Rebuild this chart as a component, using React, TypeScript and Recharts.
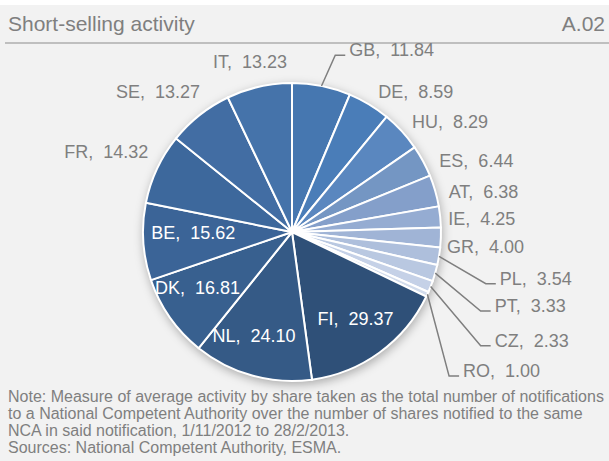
import { PieChart, Pie, Cell } from "recharts";

// clockwise from 12 o'clock
const countries = ["GB", "DE", "HU", "ES", "AT", "IE", "GR", "PL", "PT", "CZ", "RO", "FI", "NL", "DK", "BE", "FR", "SE", "IT"];
const values = [11.84, 8.59, 8.29, 6.44, 6.38, 4.25, 4.0, 3.54, 3.33, 2.33, 1.0, 29.37, 24.1, 16.81, 15.62, 14.32, 13.27, 13.23];
const colors = [
  "#4677B0", "#4A7DB8", "#5A87BF", "#7496C3", "#849FCA", "#95ACD2", "#A0B4D6", "#AEBFDC", "#B9C8E1",
  "#C5D1E7", "#D2DCEC", "#2F5078", "#355A86", "#38608F", "#3B6497", "#3D689C", "#426DA3", "#4573AA",
];

const data = countries.map((name, i) => ({ name, value: values[i] }));
const shadowData = [{ name: "all", value: values.reduce((a, b) => a + b, 0) }];

// labels drawn inside the slice (white)
const insideLabels = ["FI", "NL", "DK", "BE"];
// labels joined to their slice by a leader line
const leaderLabels = ["GB", "PL", "PT", "CZ", "RO"];
// small nudges from the default label spot
const labelShift: Record<string, [number, number]> = {
  IT: [-6, -3], SE: [9, -12], FR: [4, -11], GB: [25, -14], DE: [2, 0], HU: [0, 0],
  ES: [4, 7], AT: [0, 5], IE: [-6, 3], GR: [-8, 9], PL: [47, 20], PT: [46, 29],
  CZ: [51, 49], RO: [23, 71], BE: [9, -6], DK: [-6, -6], NL: [-9, 0], FI: [0, 0],
};

const RAD = Math.PI / 180;
const grey = "#7F7F7F";
const font = "'Liberation Sans', Arial, sans-serif";

const renderLabel = (props: any) => {
  const { cx, cy, midAngle, outerRadius, index } = props;
  const name = countries[index];
  const text = `${name},\u00A0 ${values[index].toFixed(2)}`;
  const cos = Math.cos(midAngle * RAD);
  const sin = Math.sin(midAngle * RAD);
  const [dx, dy] = labelShift[name] ?? [0, 0];

  if (insideLabels.includes(name)) {
    const r = 108;
    return (
      <text x={cx + cos * r + dx} y={cy - sin * r + dy} fill="#fff" fontSize={18} fontFamily={font}
        textAnchor="middle" dominantBaseline="central">
        {text}
      </text>
    );
  }

  const r = 163;
  let x = cx + cos * r + dx;
  let y = cy - sin * r + dy;
  let anchor: "start" | "end" | "middle" = cos > 0.25 ? "start" : cos < -0.25 ? "end" : "middle";
  if (anchor === "middle") y -= 8;
  if (leaderLabels.includes(name)) anchor = "start";

  return (
    <g>
      {leaderLabels.includes(name) && (
        <polyline
          points={`${cx + cos * outerRadius},${cy - sin * outerRadius} ${x - 14},${y + 5} ${x - 4},${y + 5}`}
          fill="none" stroke={grey} strokeWidth={1.5}
        />
      )}
      <text x={x} y={y} fill={grey} fontSize={18} fontFamily={font} textAnchor={anchor} dominantBaseline="central">
        {text}
      </text>
    </g>
  );
};

export default function App() {
  return (
    <div style={{ position: "absolute", left: 0, top: 0, width: 609, height: 461, background: "#F2F2F2", fontFamily: font, color: grey, overflow: "hidden" }}>
      <style>{`.pie-shadow { filter: blur(3px); }`}</style>
      <div style={{ position: "absolute", left: 0, top: 0, width: 609, height: 5, background: "#fff" }} />
      <div style={{ position: "absolute", left: 8, top: 12, fontSize: 21 }}>Short-selling activity</div>
      <div style={{ position: "absolute", right: 4, top: 12, fontSize: 21 }}>A.02</div>
      <div style={{ position: "absolute", left: 5, top: 42, width: 604, height: 2, background: "#BFBFBF" }} />
      <div style={{ position: "absolute", left: 0, top: 0 }}>
        <PieChart width={609} height={392} margin={{ top: 0, right: 0, bottom: 0, left: 0 }}>
          <Pie
            className="pie-shadow"
            data={shadowData}
            dataKey="value"
            cx={293}
            cy={235}
            outerRadius={150}
            fill="#000"
            fillOpacity={0.28}
            stroke="none"
            isAnimationActive={false}
          />
          <Pie
            data={data}
            dataKey="value"
            nameKey="name"
            cx={292}
            cy={232}
            outerRadius={149}
            startAngle={90}
            endAngle={-270}
            stroke="#fff"
            strokeWidth={2}
            label={renderLabel}
            labelLine={false}
            isAnimationActive={false}
          >
            {data.map((entry, index) => (
              <Cell key={`cell-${entry.name}`} fill={colors[index]} />
            ))}
          </Pie>
        </PieChart>
      </div>
      <div style={{ position: "absolute", left: 8, top: 388, fontSize: 16, lineHeight: "17px", width: 605, whiteSpace: "nowrap" }}>
        Note: Measure of average activity by share taken as the total number of notifications<br />
        to a National Competent Authority over the number of shares notified to the same<br />
        NCA in said notification, 1/11/2012 to 28/2/2013.<br />
        Sources: National Competent Authority, ESMA.
      </div>
    </div>
  );
}
